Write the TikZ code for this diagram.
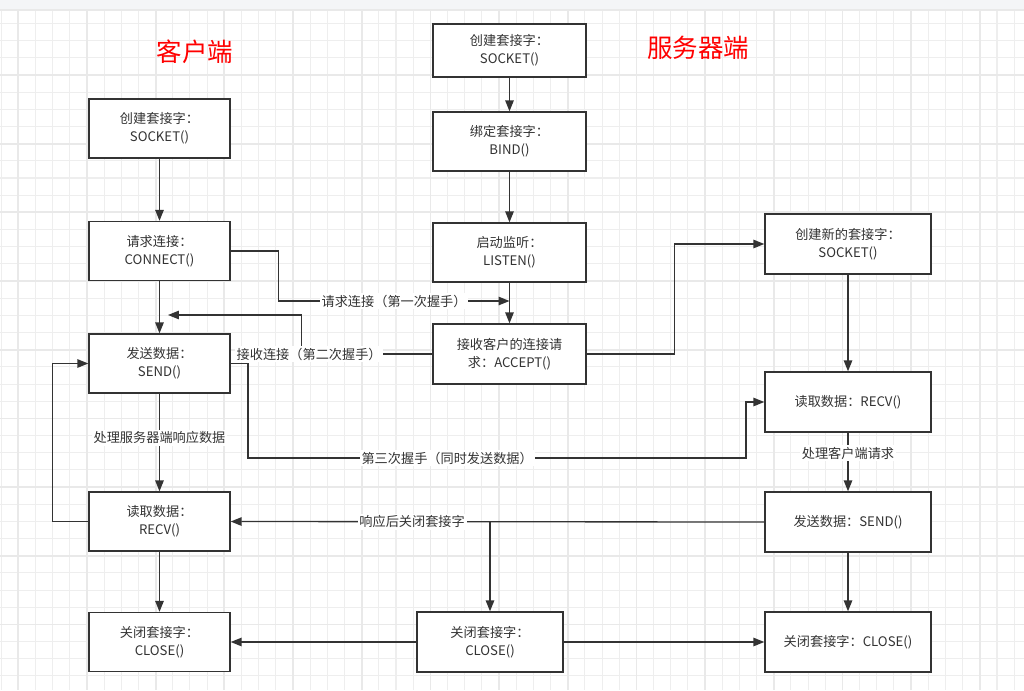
\documentclass[tikz,border=0pt]{standalone}
\usepackage{fontspec}
\setmainfont{Noto Sans CJK SC}
\usetikzlibrary{arrows.meta}
\definecolor{inkgray}{RGB}{51, 51, 51}
\definecolor{gridlight}{RGB}{238, 238, 238}
\definecolor{griddark}{RGB}{233, 233, 233}
\definecolor{topbar}{RGB}{244, 245, 247}
\definecolor{titlered}{RGB}{255, 0, 0}

\tikzset{
  box/.style={draw=inkgray, line width=0.8pt, fill=white, align=center, inner sep=1pt,
              text=inkgray, font=\fontsize{7.5pt}{10.2pt}\selectfont},
  cbox/.style={box, minimum width=2.82cm, minimum height=1.18cm},
  sbox/.style={box, minimum width=3.06cm, minimum height=1.18cm},
  nbox/.style={box, minimum width=3.32cm, minimum height=1.2cm},
  mbox/.style={box, minimum width=2.92cm, minimum height=1.2cm},
  flow/.style={draw=inkgray, line width=0.75pt, -{Triangle[length=6.2pt,width=4.8pt]}},
  lbl/.style={fill=white, inner sep=1pt, text=inkgray, font=\fontsize{7.5pt}{9pt}\selectfont},
  sidetitle/.style={text=titlered, font=\fontsize{14.5pt}{16pt}\selectfont},
}

\begin{document}
\begin{tikzpicture}[x=0.02cm, y=-0.02cm]
    \useasboundingbox (0,0) rectangle (1024,690);
    % background grid
    \fill[white] (0,0) rectangle (1024,690);
    \foreach \i in {0,...,59}
        \draw[gridlight, line width=0.6pt] ({1.1+17.17*\i},10) -- ++(0,680);
    \foreach \j in {1,...,40}
        \draw[gridlight, line width=0.6pt] (0,{6.3+17.17*\j}) -- ++(1024,0);
    \foreach \i in {0,...,14}
        \draw[griddark, line width=1pt] ({18.3+68.68*\i},10) -- ++(0,680);
    \foreach \j in {1,...,9}
        \draw[griddark, line width=1pt] (0,{6.3+68.68*\j}) -- ++(1024,0);
    \fill[topbar] (0,0) rectangle (1024,10);
    \draw[griddark, line width=0.6pt] (0,10) -- (1024,10);

    % titles
    \node[sidetitle] (ctitle) at (195,52) {客户端};
    \node[sidetitle] (stitle) at (698,48) {服务器端};

    % client
    \node[cbox] (csock)  at (159.5,128.5) {创建套接字：\\SOCKET()};
    \node[cbox] (cconn)  at (159.5,251)   {请求连接：\\CONNECT()};
    \node[cbox] (csend)  at (159.5,363.5) {发送数据：\\SEND()};
    \node[cbox] (crecv)  at (159.5,521.5) {读取数据：\\RECV()};
    \node[cbox] (cclose) at (159.5,642)   {关闭套接字：\\CLOSE()};

    % server
    \node[sbox, minimum height=1.06cm] (ssock) at (509.5,50.5) {创建套接字：\\SOCKET()};
    \node[sbox] (sbind)   at (509.5,141.5) {绑定套接字：\\BIND()};
    \node[sbox] (slisten) at (509.5,252.5) {启动监听：\\LISTEN()};
    \node[sbox, minimum height=1.2cm] (saccept) at (509.5,354) {接收客户的连接请\\求：ACCEPT()};
    \node[nbox] (snew)   at (848,244) {创建新的套接字：\\SOCKET()};
    \node[nbox] (srecv)  at (848,402) {读取数据：RECV()};
    \node[nbox] (ssend)  at (848,522) {发送数据：SEND()};
    \node[nbox] (sclose) at (848,642) {关闭套接字：CLOSE()};
    \node[mbox] (mclose) at (490,642) {关闭套接字：\\CLOSE()};

    \coordinate (hs1) at (509.5,301);
    \coordinate (hs2) at (168,315);
    \coordinate (hs3a) at (248,458);
    \coordinate (hs3b) at (746,458);
    \coordinate (rsplit) at (490,522);

    % client flow
    \draw[flow] (csock) -- (cconn);
    \draw[flow] (cconn) -- (csend);
    \draw[flow] (csend) -- node[lbl, pos=0.45] {处理服务器端响应数据} (crecv);
    \draw[flow] (crecv) -- (cclose);
    \draw[flow] (crecv.west) -- ++(-36,0) |- (csend.west);

    % server flow
    \draw[flow] (ssock) -- (sbind);
    \draw[flow] (sbind) -- (slisten);
    \draw[flow] (slisten) -- (saccept);
    \draw[flow] (saccept.east) -- ++(88,0) |- (snew.west);
    \draw[flow] (snew) -- (srecv);
    \draw[flow] (srecv) -- node[lbl, pos=0.35] {处理客户端请求} (ssend);
    \draw[flow] (ssend) -- (sclose);

    % handshakes
    \draw[flow] (cconn.east) -- ++(48,0) |- node[lbl, pos=0.75] {请求连接（第一次握手）} (hs1);
    \draw[flow] (saccept.west) -- node[lbl, pos=0.94] {接收连接（第二次握手）} ++(-131,0) |- (hs2);
    \draw[flow] (csend.east) -| (hs3a) -- node[lbl, pos=0.4] {第三次握手（同时发送数据）} (hs3b) |- (srecv.west);

    % closing
    \draw[flow] (ssend.west) -- node[lbl, pos=0.66] {响应后关闭套接字} (crecv.east);
    \draw[flow] (rsplit) -- (mclose);
    \draw[flow] (mclose) -- (cclose);
    \draw[flow] (mclose) -- (sclose);
\end{tikzpicture}
\end{document}
